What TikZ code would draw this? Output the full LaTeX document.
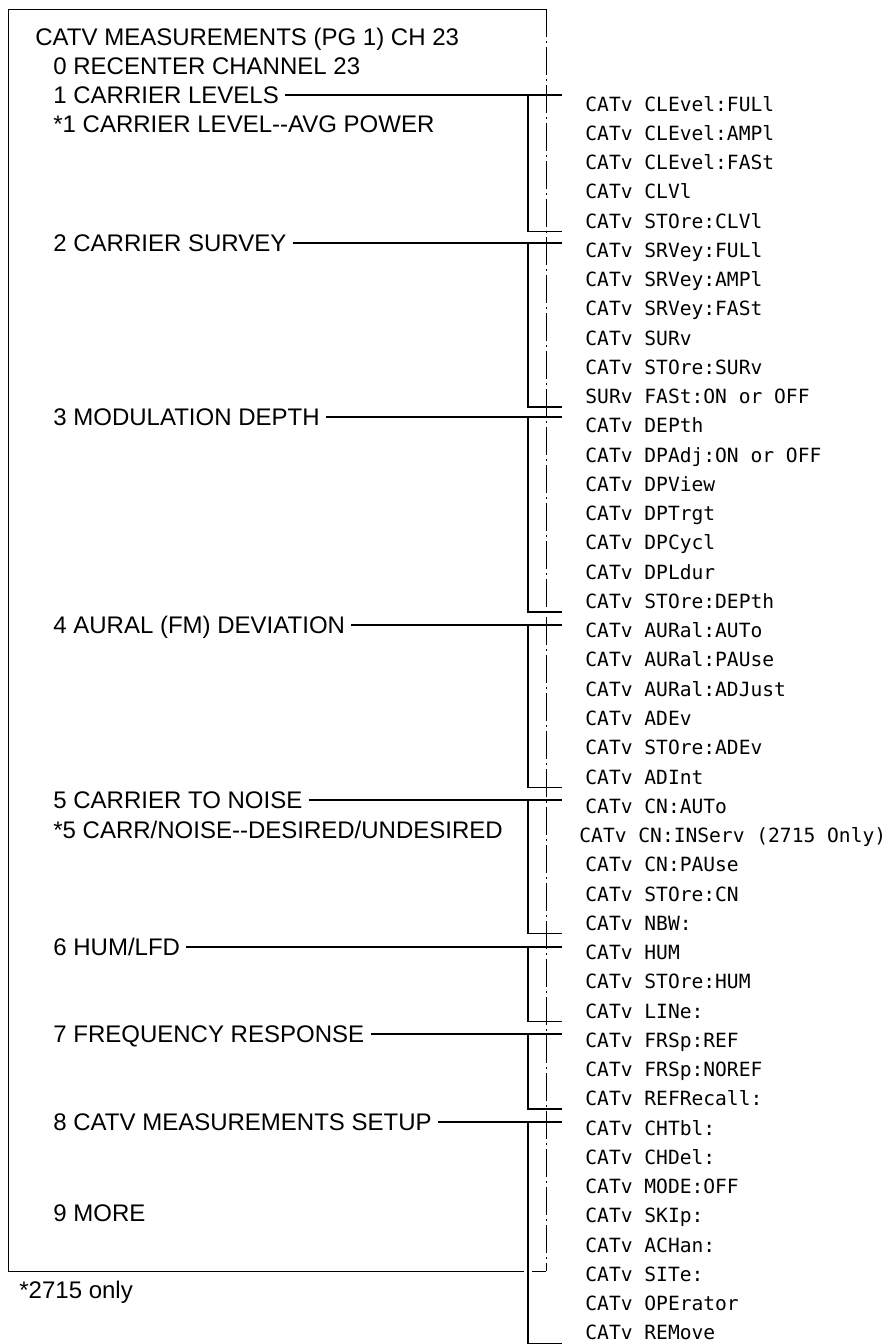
\documentclass[tikz,border=0pt]{standalone}
\usepackage{fontspec}
\setmainfont{Liberation Sans}
\newfontfamily\cmdfont{DejaVu Sans Mono}

\begin{document}
\begin{tikzpicture}[x=.5pt,y=-.5pt,
  menu/.style={font=\fontsize{12}{14}\selectfont,anchor=west,inner sep=0pt,text height=8.6pt,text depth=0pt},
  cmd/.style={font=\cmdfont\fontsize{9.8}{12}\selectfont,anchor=west,inner sep=0pt,text height=8.5pt,text depth=1.5pt},
  lead/.style={line width=.75pt,shorten <=3pt},
  brk/.style={line width=.75pt},
  frame/.style={line width=.5pt}]
  \useasboundingbox (0,0) rectangle (890,1344);
  \coordinate (rail) at (528,0);
  \coordinate (tip) at (562,0);

  \draw[frame] (546,9) -- (8,9) -- (8,1271) -- (524,1271);
  \draw[frame] (532,1271) -- (546,1271);
  \draw[frame,dash pattern=on 14pt off 2pt on 1pt off 2pt] (546,9) -- (546,1271);

  \node[menu] (title) at (35,37) {CATV MEASUREMENTS (PG 1) CH 23};
  \node[menu] (m0) at (53,66) {0 RECENTER CHANNEL 23};
  \node[menu] (m1) at (53,95) {1 CARRIER LEVELS};
  \node[menu] (m1s) at (53,124) {*1 CARRIER LEVEL-{}-AVG POWER};
  \node[menu] (m2) at (53,243) {2 CARRIER SURVEY};
  \node[menu] (m3) at (53,417) {3 MODULATION DEPTH};
  \node[menu] (m4) at (53,625) {4 AURAL (FM) DEVIATION};
  \node[menu] (m5) at (53,800) {5 CARRIER TO NOISE};
  \node[menu] (m5s) at (53,830) {*5 CARR/NOISE-{}-DESIRED/UNDESIRED};
  \node[menu] (m6) at (53,947) {6 HUM/LFD};
  \node[menu] (m7) at (53,1034) {7 FREQUENCY RESPONSE};
  \node[menu] (m8) at (53,1122) {8 CATV MEASUREMENTS SETUP};
  \node[menu] (m9) at (53,1213) {9 MORE};
  \node[menu] (note) at (19,1290) {*2715 only};

  \node[cmd] (r1) at (585,104.0) {CATv CLEvel:FULl};
  \node[cmd] (r2) at (585,133.3) {CATv CLEvel:AMPl};
  \node[cmd] (r3) at (585,162.5) {CATv CLEvel:FASt};
  \node[cmd] (r4) at (585,191.8) {CATv CLVl};
  \node[cmd] (r5) at (585,221.0) {CATv STOre:CLVl};
  \node[cmd] (r6) at (585,250.3) {CATv SRVey:FULl};
  \node[cmd] (r7) at (585,279.6) {CATv SRVey:AMPl};
  \node[cmd] (r8) at (585,308.8) {CATv SRVey:FASt};
  \node[cmd] (r9) at (585,338.1) {CATv SURv};
  \node[cmd] (r10) at (585,367.3) {CATv STOre:SURv};
  \node[cmd] (r11) at (585,396.6) {SURv FASt:ON or OFF};
  \node[cmd] (r12) at (585,425.9) {CATv DEPth};
  \node[cmd] (r13) at (585,455.1) {CATv DPAdj:ON or OFF};
  \node[cmd] (r14) at (585,484.4) {CATv DPView};
  \node[cmd] (r15) at (585,513.6) {CATv DPTrgt};
  \node[cmd] (r16) at (585,542.9) {CATv DPCycl};
  \node[cmd] (r17) at (585,572.2) {CATv DPLdur};
  \node[cmd] (r18) at (585,601.4) {CATv STOre:DEPth};
  \node[cmd] (r19) at (585,630.7) {CATv AURal:AUTo};
  \node[cmd] (r20) at (585,659.9) {CATv AURal:PAUse};
  \node[cmd] (r21) at (585,689.2) {CATv AURal:ADJust};
  \node[cmd] (r22) at (585,718.5) {CATv ADEv};
  \node[cmd] (r23) at (585,747.7) {CATv STOre:ADEv};
  \node[cmd] (r24) at (585,777.0) {CATv ADInt};
  \node[cmd] (r25) at (585,806.2) {CATv CN:AUTo};
  \node[cmd] (r26) at (579,835.5) {CATv CN:INServ (2715 Only)};
  \node[cmd] (r27) at (585,864.8) {CATv CN:PAUse};
  \node[cmd] (r28) at (585,894.0) {CATv STOre:CN};
  \node[cmd] (r29) at (585,923.3) {CATv NBW:};
  \node[cmd] (r30) at (585,952.5) {CATv HUM};
  \node[cmd] (r31) at (585,981.8) {CATv STOre:HUM};
  \node[cmd] (r32) at (585,1011.1) {CATv LINe:};
  \node[cmd] (r33) at (585,1040.3) {CATv FRSp:REF};
  \node[cmd] (r34) at (585,1069.6) {CATv FRSp:NOREF};
  \node[cmd] (r35) at (585,1098.8) {CATv REFRecall:};
  \node[cmd] (r36) at (585,1128.1) {CATv CHTbl:};
  \node[cmd] (r37) at (585,1157.4) {CATv CHDel:};
  \node[cmd] (r38) at (585,1186.6) {CATv MODE:OFF};
  \node[cmd] (r39) at (585,1215.9) {CATv SKIp:};
  \node[cmd] (r40) at (585,1245.1) {CATv ACHan:};
  \node[cmd] (r41) at (585,1274.4) {CATv SITe:};
  \node[cmd] (r42) at (585,1303.7) {CATv OPErator};
  \node[cmd] (r43) at (585,1332.9) {CATv REMove};

  \draw[lead] (m1.east) -- (m1.east -| tip);
  \draw[brk] (m1.east -| rail) |- (r5.south -| tip);
  \draw[lead] (m2.east) -- (m2.east -| tip);
  \draw[brk] (m2.east -| rail) |- (r11.south -| tip);
  \draw[lead] (m3.east) -- (m3.east -| tip);
  \draw[brk] (m3.east -| rail) |- (r18.south -| tip);
  \draw[lead] (m4.east) -- (m4.east -| tip);
  \draw[brk] (m4.east -| rail) |- (r24.south -| tip);
  \draw[lead] (m5.east) -- (m5.east -| tip);
  \draw[brk] (m5.east -| rail) |- (r29.south -| tip);
  \draw[lead] (m6.east) -- (m6.east -| tip);
  \draw[brk] (m6.east -| rail) |- (r32.south -| tip);
  \draw[lead] (m7.east) -- (m7.east -| tip);
  \draw[brk] (m7.east -| rail) |- (r35.south -| tip);
  \draw[lead] (m8.east) -- (m8.east -| tip);
  \draw[brk] (m8.east -| rail) |- (r43.south -| tip);
\end{tikzpicture}
\end{document}
